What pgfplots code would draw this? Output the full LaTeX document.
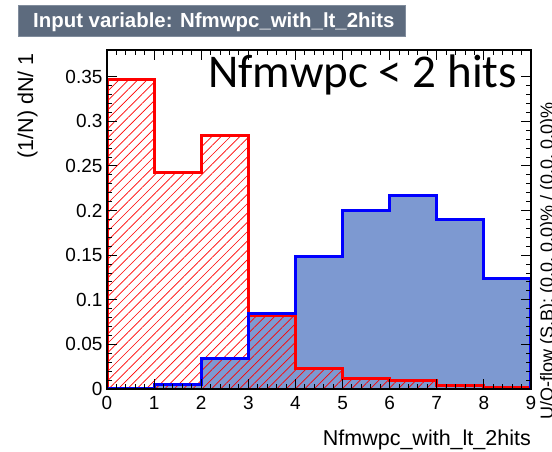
\documentclass[border=0pt]{standalone}
\usepackage{fontspec}
\setmainfont{Liberation Sans}
\newfontfamily\carlito{Carlito}
\usepackage{pgfplots}
\pgfplotsset{compat=1.18}
\usetikzlibrary{patterns.meta}

\definecolor{sigfill}{RGB}{125,153,209}
\definecolor{sigline}{RGB}{0,0,255}
\definecolor{bkgline}{RGB}{255,0,0}
\definecolor{banner}{RGB}{93,107,126}
\definecolor{bannerrim}{RGB}{128,140,156}

\begin{document}
\begin{tikzpicture}
\path[use as bounding box, clip] (0pt,0pt) rectangle (552pt,451pt);

% title banner
\fill[banner] (18pt,415pt) rectangle (405pt,446pt);
\draw[bannerrim, line width=0.6pt] (18pt,415pt) rectangle (405pt,446pt);
\node[anchor=base west, inner sep=0pt, text=white, font=\bfseries\fontsize{20.4}{20.4}\selectfont]
  at (33pt,423pt) {Input variable: Nfmwpc\_with\_lt\_2hits};

\begin{axis}[
  scale only axis,
  width=424pt, height=339pt,
  at={(107pt,62pt)}, anchor=south west,
  xmin=0, xmax=9, ymin=0, ymax=0.38,
  xtick={0,1,2,3,4,5,6,7,8,9},
  ytick={0,0.05,0.1,0.15,0.2,0.25,0.3,0.35},
  minor x tick num=4, minor y tick num=4,
  tick align=inside, tick pos=both,
  major tick length=10pt, minor tick length=5pt,
  every tick/.style={black, line width=1pt},
  axis line style={black, line width=1.2pt},
  axis on top,
  scaled y ticks=false,
  /pgf/number format/assume math mode=true,
  ticklabel style={font=\fontsize{19}{19}\selectfont},
  yticklabel style={/pgf/number format/fixed, /pgf/number format/precision=2, xshift=-1pt},
  xticklabel style={yshift=-4pt},
]
% signal (blue) filled area
\addplot[const plot, fill=sigfill, draw=none] coordinates {
  (0,0.001) (1,0.005) (2,0.034) (3,0.085) (4,0.149) (5,0.200) (6,0.217) (7,0.190) (8,0.124) (9,0.124)
} \closedcycle;
% background (red) hatched area
\addplot[const plot, draw=none, pattern={Lines[angle=45,distance=6.6pt,line width=0.7pt]}, pattern color=bkgline] coordinates {
  (0,0.347) (1,0.243) (2,0.284) (3,0.082) (4,0.023) (5,0.0115) (6,0.0092) (7,0.004) (8,0.0012) (9,0.0012)
} \closedcycle;
% outlines
\addplot[const plot, draw=bkgline, line width=3pt] coordinates {
  (0,0) (0,0.347) (1,0.243) (2,0.284) (3,0.082) (4,0.023) (5,0.0115) (6,0.0092) (7,0.004) (8,0.0012) (9,0.0012) (9,0)
};
\addplot[const plot, draw=sigline, line width=3pt] coordinates {
  (0,0) (0,0.001) (1,0.005) (2,0.034) (3,0.085) (4,0.149) (5,0.200) (6,0.217) (7,0.190) (8,0.124) (9,0.124) (9,0)
};
\end{axis}

% axis titles
\node[anchor=base east, inner sep=0pt, font=\fontsize{21.5}{21.5}\selectfont]
  at (531pt,6pt) {Nfmwpc\_with\_lt\_2hits};
\node[anchor=base east, rotate=90, inner sep=0pt, font=\fontsize{21.5}{21.5}\selectfont]
  at (33pt,398pt) {(1/N) dN/ 1};

% overflow note along the right edge
\node[anchor=base west, rotate=90, inner sep=0pt, font=\fontsize{18}{18}\selectfont]
  at (553pt,31pt) {U/O-flow (S,B): (0.0, 0.0)\% / (0.0, 0.0)\%};

% annotation
\node[anchor=base west, inner sep=0pt, font=\carlito\fontsize{47}{47}\selectfont]
  at (208pt,363pt) {Nfmwpc < 2 hits};
\end{tikzpicture}
\end{document}
